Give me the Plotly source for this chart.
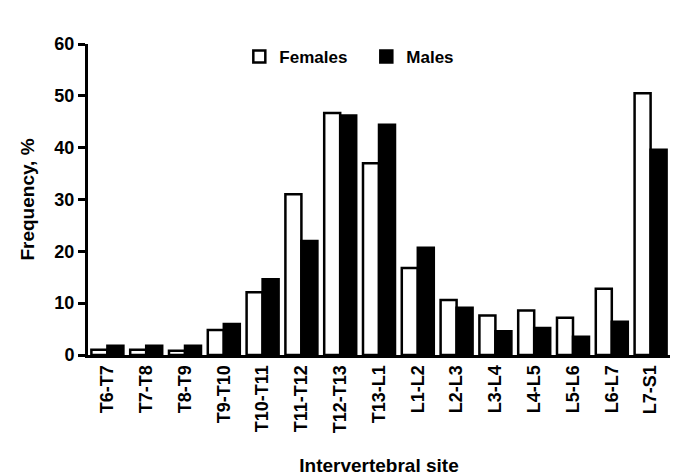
import plotly.graph_objects as go

categories = ["T6-T7", "T7-T8", "T8-T9", "T9-T10", "T10-T11", "T11-T12", "T12-T13",
              "T13-L1", "L1-L2", "L2-L3", "L3-L4", "L4-L5", "L5-L6", "L6-L7", "L7-S1"]
females = [1.0, 1.0, 0.8, 4.8, 12.1, 31.0, 46.7, 37.0, 16.8, 10.6, 7.6, 8.6, 7.2, 12.8, 50.5]
males = [1.8, 1.8, 1.8, 6.0, 14.6, 22.0, 46.2, 44.4, 20.7, 9.1, 4.6, 5.2, 3.5, 6.4, 39.6]
y_ticks = [0, 10, 20, 30, 40, 50, 60]

FONT = "Liberation Sans, Arial, sans-serif"

fig = go.Figure()
fig.add_trace(go.Bar(x=categories, y=females, name="Females",
                     marker=dict(color="white", line=dict(color="black", width=2.5))))
fig.add_trace(go.Bar(x=categories, y=males, name="Males",
                     marker=dict(color="black", line=dict(color="black", width=2.5))))

fig.update_layout(
    width=677, height=476,
    margin=dict(l=88, r=7, t=44, b=121),
    paper_bgcolor="white", plot_bgcolor="white",
    barmode="group", bargap=0.175, bargroupgap=0,
    font=dict(family=FONT, color="black", size=18),
    showlegend=True,
    legend=dict(orientation="h", x=0.26, y=0.958, xanchor="left", yanchor="middle",
                font=dict(family=FONT, size=17, weight="bold"),
                itemwidth=30, entrywidth=82, entrywidthmode="pixels",
                bgcolor="rgba(0,0,0,0)"),
    xaxis=dict(showline=True, linecolor="black", linewidth=3, ticks="",
               tickangle=-90, tickfont=dict(family=FONT, size=18, weight="bold"),
               title=dict(text="Intervertebral site", font=dict(family=FONT, size=19, weight="bold"),
                          standoff=27),
               showgrid=False, zeroline=False, automargin=False),
    yaxis=dict(range=[0, 60], tickvals=y_ticks, showline=True, linecolor="black", linewidth=3,
               ticks="outside", ticklen=7, tickwidth=3, tickcolor="black",
               tickfont=dict(family=FONT, size=18, weight="bold"),
               title=dict(text="Frequency, %", font=dict(family=FONT, size=19, weight="bold"),
                          standoff=15),
               showgrid=False, zeroline=False, automargin=False),
)

fig.write_html("out.html", config={"displayModeBar": False},
               post_script="document.body.style.margin='0';")
